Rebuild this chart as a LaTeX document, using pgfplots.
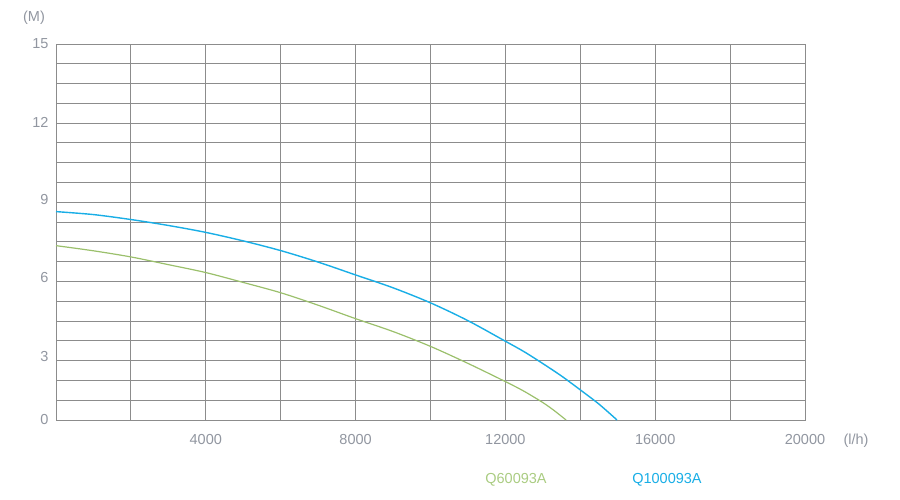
\documentclass[border=0pt]{standalone}
\usepackage{pgfplots}
\pgfplotsset{compat=1.18}
\usepackage{fontspec}
\setmainfont{Liberation Sans}
\definecolor{gridc}{RGB}{140,140,140}
\definecolor{labc}{RGB}{145,150,160}
\definecolor{bluec}{RGB}{25,174,230}
\definecolor{greenc}{RGB}{155,192,108}
\definecolor{greent}{RGB}{170,204,130}
\begin{document}
\begin{tikzpicture}
\useasboundingbox (0,0) rectangle (900pt,500pt);
\begin{axis}[
  at={(56pt,80pt)}, anchor=south west,
  width=749pt, height=376pt, scale only axis,
  xmin=0, xmax=20000, ymin=0, ymax=19,
  scaled x ticks=false,
  xtick={0,2000,...,20000},
  xticklabels={,,4000,,8000,,12000,,16000,,20000},
  ytick={0,1,...,19},
  yticklabels={},
  extra y ticks={0,3.23,7.18,11.12,15.06,19},
  extra y tick labels={0,3,6,9,12,15},
  extra y tick style={grid=none, major tick length=0pt},
  grid=major,
  grid style={gridc, line width=0.9pt},
  axis line style={gridc, line width=0.9pt},
  major tick length=0pt,
  tick label style={font=\fontsize{14.5}{16}\selectfont, text=labc},
  xticklabel style={yshift=-11pt},
  yticklabel style={xshift=-4pt},
  /pgf/number format/assume math mode=true,
  clip=false,
]
\addplot[bluec, line width=1.4pt, smooth] coordinates {
(0,10.53) (1000,10.38) (2000,10.13) (3000,9.83) (4000,9.48) (5000,9.05)
(6000,8.56) (7000,7.98) (8000,7.33) (9000,6.68) (10000,5.92) (11000,5.02)
(12000,3.98) (12500,3.45) (13000,2.85) (13500,2.22) (14000,1.52) (14500,0.8) (14980,0)
};
\addplot[greenc, line width=1.2pt, smooth] coordinates {
(0,8.81) (1000,8.55) (2000,8.24) (3000,7.85) (4000,7.45) (5000,6.95)
(6000,6.43) (7000,5.80) (8000,5.12) (9000,4.47) (10000,3.72) (11000,2.86)
(12000,1.94) (12500,1.45) (13000,0.88) (13300,0.48) (13620,0)
};
\end{axis}
\node[text=labc, font=\fontsize{14.5}{16}\selectfont] at (34pt,482pt) {(M)};
\node[text=labc, font=\fontsize{14.5}{16}\selectfont] at (856pt,59pt) {(l/h)};
\node[text=greent, font=\fontsize{14.5}{16}\selectfont] at (516pt,20pt) {Q60093A};
\node[text=bluec, font=\fontsize{14.5}{16}\selectfont] at (667pt,20pt) {Q100093A};
\end{tikzpicture}
\end{document}
